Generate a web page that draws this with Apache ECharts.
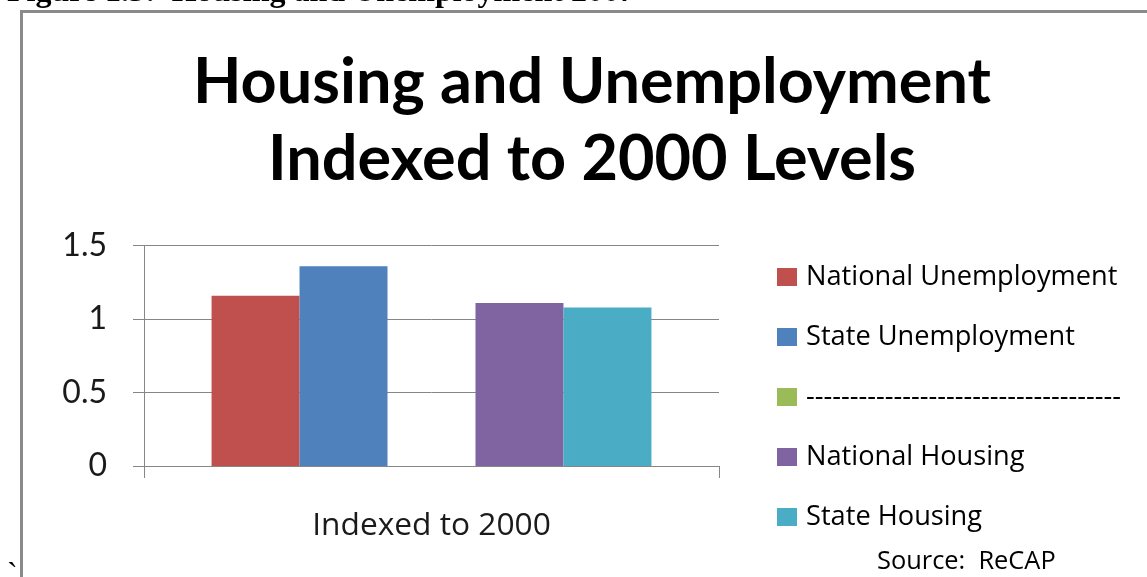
<!DOCTYPE html>
<html>
<head>
<meta charset="utf-8">
<script src="https://cdn.jsdelivr.net/npm/echarts@6/dist/echarts.min.js"></script>
<style>
  html, body { margin: 0; padding: 0; background: #ffffff; }
  #chart { width: 1147px; height: 577px; }
</style>
</head>
<body>
<div id="chart"></div>
<script>
// Category and series data
const categories = ['Indexed to 2000'];
const seriesNames = [
  'National Unemployment',
  'State Unemployment',
  '------------------------------------',
  'National Housing',
  'State Housing'
];
const nationalUnemployment = [1.16];
const stateUnemployment = [1.36];
const spacerSeries = [0];
const nationalHousing = [1.11];
const stateHousing = [1.08];
const yTicks = [0, 0.5, 1, 1.5];

const seriesValues = [nationalUnemployment, stateUnemployment, spacerSeries, nationalHousing, stateHousing];
const seriesColors = ['#C0504D', '#4F81BD', '#9BBB59', '#8064A2', '#4BACC6'];

const FONT = 'Lato';
const TEXT_FONT = '"Open Sans"';
const chart = echarts.init(document.getElementById('chart'), null, { renderer: 'canvas' });

chart.setOption({
  backgroundColor: '#ffffff',
  animation: false,
  title: {
    text: 'Housing and Unemployment\nIndexed to 2000 Levels',
    left: 592,
    top: 44,
    padding: 0,
    textAlign: 'center',
    textStyle: {
      fontFamily: FONT,
      fontWeight: 'bold',
      fontSize: 63,
      lineHeight: 77,
      color: '#000000'
    }
  },
  legend: {
    orient: 'vertical',
    left: 777,
    top: 262,
    padding: 0,
    itemWidth: 20,
    itemHeight: 18,
    itemGap: 30,
    icon: 'rect',
    selectedMode: false,
    data: seriesNames,
    textStyle: {
      fontFamily: TEXT_FONT,
      fontSize: 27.2,
      lineHeight: 30,
      color: '#000000',
      padding: [0, 0, 0, 4]
    }
  },
  grid: {
    left: 144,
    right: 428,
    top: 245.7,
    bottom: 111,
    containLabel: false
  },
  xAxis: {
    type: 'category',
    data: categories,
    boundaryGap: true,
    axisLine: { show: true, lineStyle: { color: '#868686', width: 1 } },
    axisTick: { show: true, length: 12, alignWithLabel: false, lineStyle: { color: '#868686' } },
    axisLabel: {
      margin: 44,
      fontFamily: TEXT_FONT,
      fontSize: 31.7,
      lineHeight: 31,
      color: '#1a1a1a'
    },
    splitLine: { show: false }
  },
  yAxis: {
    type: 'value',
    min: yTicks[0],
    max: yTicks[yTicks.length - 1],
    interval: yTicks[1] - yTicks[0],
    axisLine: { show: true, lineStyle: { color: '#868686', width: 1 } },
    axisTick: { show: true, length: 11, lineStyle: { color: '#868686' } },
    axisLabel: {
      margin: 37,
      fontFamily: FONT,
      fontSize: 32,
      color: '#1a1a1a',
      formatter: function (v) { return String(v); }
    },
    splitLine: { show: true, lineStyle: { color: '#868686', width: 1 } }
  },
  series: seriesNames.map(function (name, i) {
    return {
      name: name,
      type: 'bar',
      data: seriesValues[i],
      barGap: '0%',
      barCategoryGap: '23.5%',
      itemStyle: { color: seriesColors[i] }
    };
  }),
  graphic: [
    {
      // frame around the chart area
      type: 'rect',
      shape: { x: 21.5, y: 11.5, width: 1300, height: 700 },
      style: { fill: 'none', stroke: '#8a8a8a', lineWidth: 3 },
      silent: true
    },
    {
      type: 'text',
      left: 7,
      top: -23,
      style: {
        text: 'Figure 1.5:  Housing and Unemployment 2007',
        font: 'bold 32px "Liberation Serif"',
        fill: '#000000'
      }
    },
    {
      type: 'text',
      left: 877,
      top: 549,
      style: {
        text: 'Source:  ReCAP',
        font: '25.4px "Open Sans"',
        fill: '#000000'
      }
    },
    {
      type: 'text',
      left: 7,
      top: 560,
      style: {
        text: '`',
        font: '32px "Liberation Serif"',
        fill: '#000000'
      }
    }
  ]
});
</script>
</body>
</html>
